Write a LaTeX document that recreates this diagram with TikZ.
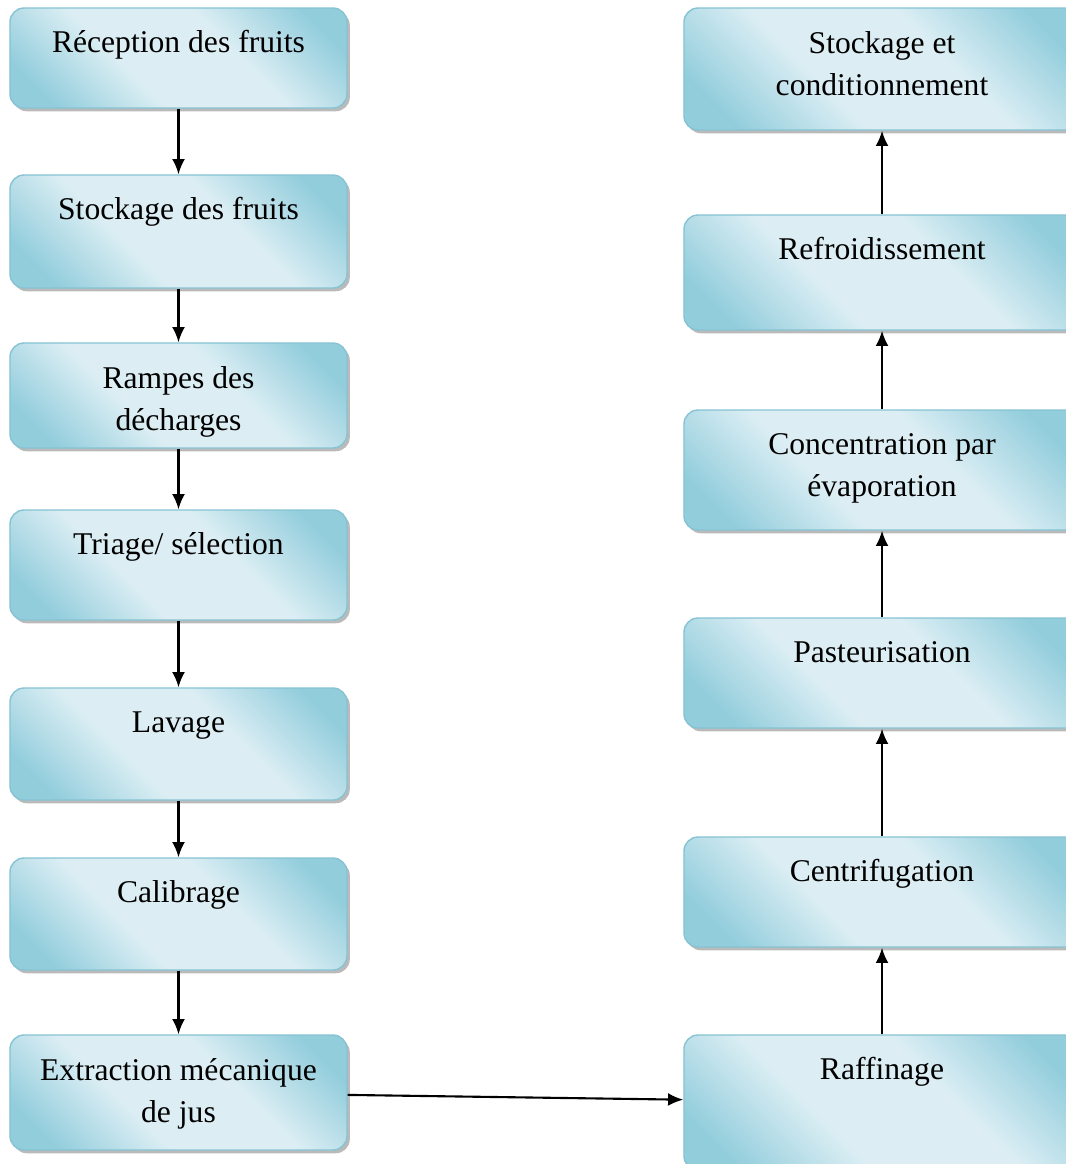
\documentclass[tikz,border=0pt]{standalone}
\usepackage{fontspec}
\setmainfont{Liberation Serif}
\usetikzlibrary{shadows, arrows.meta}

\definecolor{aqualight}{HTML}{DCEEF4}
\definecolor{aquadark}{HTML}{92CDDC}
\definecolor{aquaedge}{HTML}{86C3D3}

\pgfdeclareverticalshading{aqua}{100bp}{color(0bp)=(aquadark); color(22bp)=(aquadark);
  color(40bp)=(aqualight); color(60bp)=(aqualight); color(78bp)=(aquadark); color(100bp)=(aquadark)}

\tikzset{
  etape/.style={draw=aquaedge, line width=0.6pt, rounded corners=6pt,
    shading=aqua, shading angle=-45,
    drop shadow={shadow xshift=1.2pt, shadow yshift=-1.4pt, fill=black!45, opacity=0.6}},
  gauche/.style={etape, minimum width=5.055cm},
  droite/.style={etape, minimum width=5.94cm},
  titre/.style={anchor=north, inner sep=0pt, yshift=-6.6pt, align=center,
    execute at begin node=\strut},
  titre deux/.style={titre, yshift=-3.4pt},
  fleche/.style={->, >={Latex[length=6.5pt,width=5.5pt]}, line width=0.9pt},
}

\begin{document}
\begin{tikzpicture}[x=0.015cm, y=-0.015cm, font=\fontsize{13.5}{18}\selectfont]
    \useasboundingbox (0,0) rectangle (1066,1164);
    % colonne de gauche
    \node [gauche, minimum height=1.5cm, label={[titre]north:Réception des fruits}] (recep) at (178.5,58) {};
    \node [gauche, minimum height=1.695cm, label={[titre]north:Stockage des fruits}] (stockf) at (178.5,231.5) {};
    \node [gauche, minimum height=1.575cm, label={[titre deux]north:{Rampes des\\décharges}}] (rampes) at (178.5,395.5) {};
    \node [gauche, minimum height=1.65cm, label={[titre]north:Triage/ sélection}] (triage) at (178.5,565) {};
    \node [gauche, minimum height=1.68cm, label={[titre]north:Lavage}] (lavage) at (178.5,744) {};
    \node [gauche, minimum height=1.68cm, label={[titre]north:Calibrage}] (calib) at (178.5,914) {};
    \node [gauche, minimum height=1.725cm, label={[titre deux]north:{Extraction mécanique\\de jus}}] (extract) at (178.5,1092.5) {};
    % colonne de droite
    \node [droite, minimum height=1.83cm, label={[titre deux]north:{Stockage et\\conditionnement}}] (stockc) at (882,69) {};
    \node [droite, minimum height=1.725cm, label={[titre]north:Refroidissement}] (refroid) at (882,272.5) {};
    \node [droite, minimum height=1.8cm, label={[titre deux]north:{Concentration par\\évaporation}}] (concent) at (882,470) {};
    \node [droite, minimum height=1.65cm, label={[titre]north:Pasteurisation}] (pasteur) at (882,673) {};
    \node [droite, minimum height=1.65cm, label={[titre]north:Centrifugation}] (centrif) at (882,892) {};
    \node [droite, minimum height=2.025cm, label={[titre]north:Raffinage}] (raffin) at (882,1102.5) {};
    % fleches
    \draw [fleche] (recep) -- (stockf);
    \draw [fleche] (stockf) -- (rampes);
    \draw [fleche] (rampes) -- (triage);
    \draw [fleche] (triage) -- (lavage);
    \draw [fleche] (lavage) -- (calib);
    \draw [fleche] (calib) -- (extract);
    \draw [fleche] (extract) -- (raffin);
    \draw [fleche] (raffin) -- (centrif);
    \draw [fleche] (centrif) -- (pasteur);
    \draw [fleche] (pasteur) -- (concent);
    \draw [fleche] (concent) -- (refroid);
    \draw [fleche] (refroid) -- (stockc);
\end{tikzpicture}
\end{document}
